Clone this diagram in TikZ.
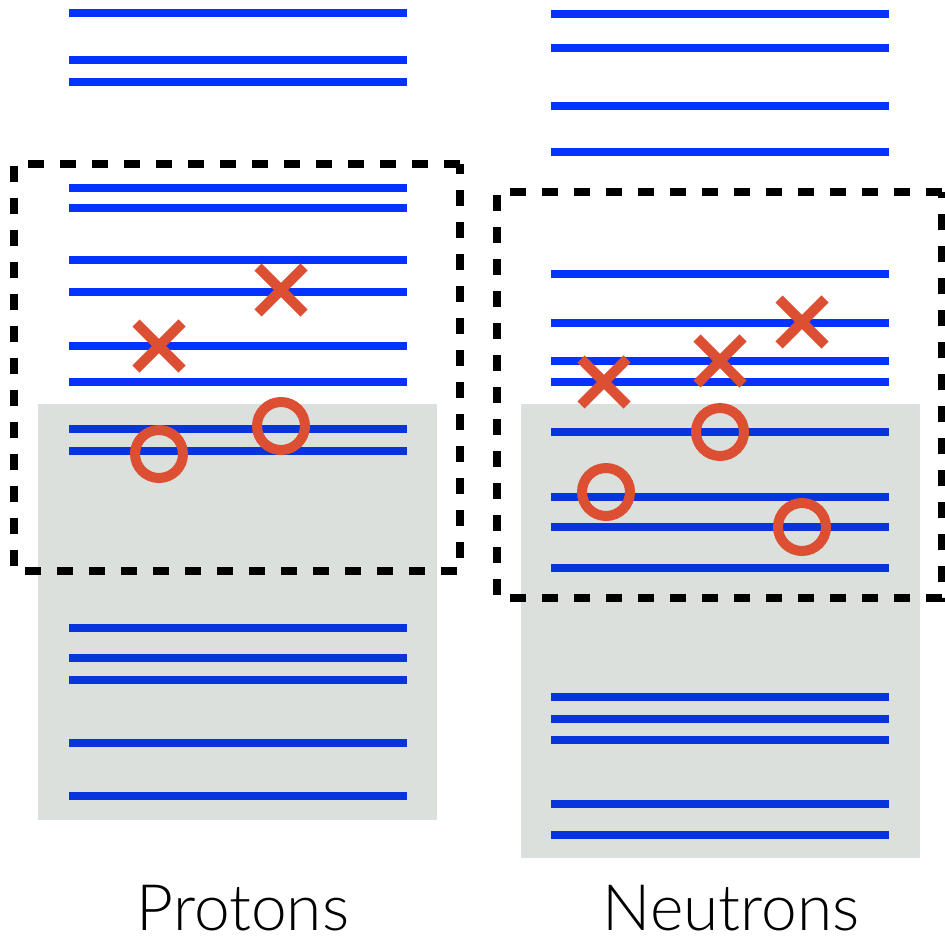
\documentclass[tikz,border=0pt]{standalone}
\usepackage{fontspec}
\setmainfont{Lato}
\newfontfamily\capfont{Lato Light}
\definecolor{lvl}{RGB}{4,51,255}
\definecolor{mark}{RGB}{221,79,50}
\definecolor{shade}{RGB}{30,60,40}
\begin{document}
\begin{tikzpicture}[x=1pt,y=-1pt,
  level/.style={draw=lvl,line width=8pt},
  filled/.style={fill=shade,fill opacity=0.16,draw=none},
  hole/.style={draw=mark,line width=10pt},
  particle/.style={draw=mark,line width=10pt},
  window/.style={draw=black,line width=8pt,dash pattern=on 16pt off 16pt},
  caption/.style={font=\capfont\fontsize{64}{64}\selectfont,anchor=base,inner sep=0pt}]
\useasboundingbox (0,0) rectangle (945,939);
% proton levels
\foreach \y in {13,60,82,188,208,260,292,346,382,429,451,628,658,680,743,796}
  \draw[level] (69,\y) -- (407,\y);
% neutron levels
\foreach \y in {14,48,106,152,274,323,361,382,432,497,527,568,697,719,740,804,835}
  \draw[level] (551,\y) -- (889,\y);
% filled regions
\fill[filled] (38,404) rectangle (437,820);
\fill[filled] (521,404) rectangle (920,858);
% holes
\foreach \x/\y in {159/454,281/426,606/492,720/432,802/527}
  \draw[hole] (\x,\y) circle[radius=24];
% particles
\foreach \x/\y in {159/346,281/290,604/382,720/361,802/322}{
  \draw[particle] (\x-23,\y-23) -- (\x+23,\y+23);
  \draw[particle] (\x-23,\y+23) -- (\x+23,\y-23);
}
% windows
\draw[window] (460,164) -- (14,164) -- (14,571) -- (460,571) -- cycle;
\draw[window] (942,192) -- (497,192) -- (497,598) -- (942,598) -- cycle;
% captions
\node[caption] (p) at (243,930) {Protons};
\node[caption] (n) at (731,930) {Neutrons};
\end{tikzpicture}
\end{document}
